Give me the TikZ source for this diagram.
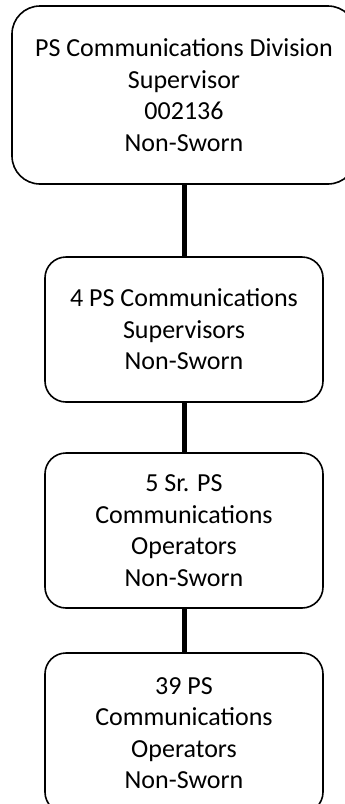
\documentclass[tikz,border=0pt]{standalone}
\usepackage{fontspec}
\setmainfont{Carlito}
\begin{document}
\begin{tikzpicture}[x=1pt,y=-1pt,
  box/.style={draw=black,line width=1.6pt,fill=white,align=center,inner sep=0pt,
    font=\fontsize{26}{31.5}\selectfont,text=black},
  link/.style={line width=5pt,draw=black}]
\useasboundingbox (0,0) rectangle (345,804);
\node[box,rounded corners=28pt,minimum width=344pt,minimum height=178pt] (a) at (184,95)
  {PS Communications Division\\Supervisor\\002136\\Non-Sworn};
\node[box,rounded corners=21pt,minimum width=278pt,minimum height=145pt] (b) at (184,329.5)
  {4 PS Communications\\Supervisors\\Non-Sworn};
\node[box,rounded corners=21pt,minimum width=278pt,minimum height=155pt] (c) at (184,530.5)
  {5 Sr. PS\\Communications\\Operators\\Non-Sworn};
\node[box,rounded corners=21pt,minimum width=278pt,minimum height=160pt] (d) at (184,733)
  {39 PS\\Communications\\Operators\\Non-Sworn};
\draw[link] (a.south) -- (b.north);
\draw[link] (b.south) -- (c.north);
\draw[link] (c.south) -- (d.north);
\end{tikzpicture}
\end{document}
